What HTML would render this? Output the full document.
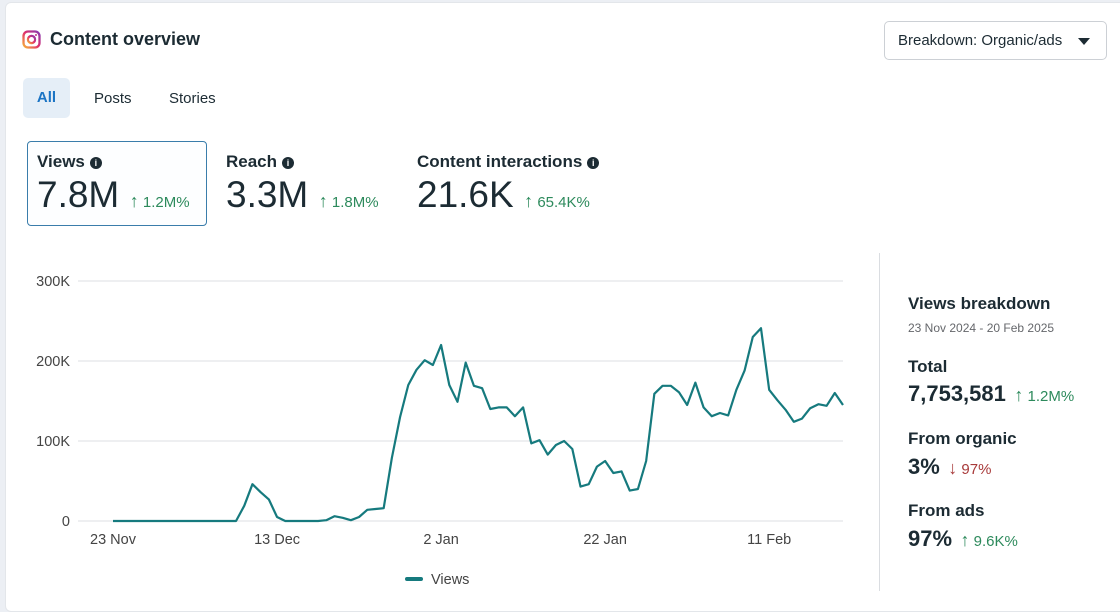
<!DOCTYPE html>
<html><head><meta charset="utf-8"><style>
*{box-sizing:border-box;margin:0;padding:0}
body{width:1120px;height:603px;background:#eceff4;font-family:"Liberation Sans",sans-serif;color:#1c2b33;position:relative;overflow:hidden}
#card{position:absolute;left:5px;top:2px;width:1125px;height:610px;background:#fff;border:1px solid #e3e6ea;border-radius:6px}
.a{position:absolute;white-space:nowrap}
.b{font-weight:bold}
.info{display:inline-block;width:12px;height:12px;border-radius:50%;background:#1c2b33;color:#fff;font-size:9px;text-align:center;line-height:12px;vertical-align:1px;margin-left:5px;font-weight:bold}
.big{font-size:37px;color:#1c2b33}
.up{color:#2d8a5c;font-size:15px}
.arr{font-size:18px}
</style></head><body>
<div id="card"></div>
<svg class="a" style="left:22px;top:30px" width="19" height="19" viewBox="0 0 19 19"><defs><linearGradient id="ig" x1="0" y1="1" x2="1" y2="0"><stop offset="0" stop-color="#f6b33a"/><stop offset=".5" stop-color="#e1306c"/><stop offset="1" stop-color="#833ab4"/></linearGradient></defs><rect x="1.5" y="1.5" width="16" height="16" rx="4.5" fill="none" stroke="url(#ig)" stroke-width="2.3"/><circle cx="9.5" cy="9.5" r="3.6" fill="none" stroke="url(#ig)" stroke-width="2.2"/><circle cx="14" cy="5" r="1" fill="#c13584"/></svg>
<div class="a b" style="left:50px;top:29px;font-size:18px">Content overview</div>
<div class="a" style="left:884px;top:21px;width:223px;height:39px;border:1px solid #ccd0d5;border-radius:5px;font-size:15px;padding:10px 0 0 13px">Breakdown: Organic/ads <span style="position:absolute;right:16px;top:16px;border-left:6px solid transparent;border-right:6px solid transparent;border-top:7px solid #1c2b33"></span></div>
<div class="a b" style="left:23px;top:78px;width:47px;height:40px;background:#e5eef7;border-radius:5px;color:#1b74c4;font-size:15px;text-align:center;line-height:40px">All</div>
<div class="a" style="left:94px;top:90px;font-size:15px">Posts</div>
<div class="a" style="left:169px;top:90px;font-size:15px">Stories</div>
<div class="a" style="left:27px;top:141px;width:180px;height:85px;border:1.5px solid #3a7dab;border-radius:4px;background:#fdfeff"></div>
<div class="a b" style="left:37px;top:152px;font-size:17px">Views<span class="info">i</span></div>
<div class="a" style="left:37px;top:174px"><span class="big">7.8M</span> <span class="up" style="margin-left:6px"><span class="arr">↑</span> 1.2M%</span></div>
<div class="a b" style="left:226px;top:152px;font-size:17px">Reach<span class="info">i</span></div>
<div class="a" style="left:226px;top:174px"><span class="big">3.3M</span> <span class="up" style="margin-left:6px"><span class="arr">↑</span> 1.8M%</span></div>
<div class="a b" style="left:417px;top:152px;font-size:17px">Content interactions<span class="info">i</span></div>
<div class="a" style="left:417px;top:174px"><span class="big">21.6K</span> <span class="up" style="margin-left:6px"><span class="arr">↑</span> 65.4K%</span></div>

<svg id="chart" class="a" style="left:0;top:0" width="870" height="603"></svg>
<div class="a" style="left:879px;top:253px;width:1px;height:338px;background:#dadde1"></div>
<div class="a b" style="left:908px;top:294px;font-size:17px">Views breakdown</div>
<div class="a" style="left:908px;top:321px;font-size:12px;color:#65676b">23 Nov 2024 - 20 Feb 2025</div>
<div class="a b" style="left:908px;top:357px;font-size:17px">Total</div>
<div class="a" style="left:908px;top:381px"><span class="b" style="font-size:22px">7,753,581</span> <span class="up" style="margin-left:4px"><span class="arr">↑</span> 1.2M%</span></div>
<div class="a b" style="left:908px;top:429px;font-size:17px">From organic</div>
<div class="a" style="left:908px;top:454px"><span class="b" style="font-size:22px">3%</span> <span style="color:#a83a3a;font-size:15px;margin-left:4px"><span class="arr">↓</span> 97%</span></div>
<div class="a b" style="left:908px;top:501px;font-size:17px">From ads</div>
<div class="a" style="left:908px;top:526px"><span class="b" style="font-size:22px">97%</span> <span class="up" style="margin-left:4px"><span class="arr">↑</span> 9.6K%</span></div>
<script>
const views=[0,0,0,0,0,0,0,0,0,0,0,0,0,0,0,0,19,46,36,27,5,0,0,0,0,0,1,6,4,1,5,14,15,16,79,130,170,189,201,195,220,170,149,198,169,166,140,142,142,131,142,97,101,83,95,100,90,43,46,68,75,60,62,38,40,75,159,169,169,161,145,173,142,131,135,132,164,188,230,241,164,151,139,124,128,141,146,144,160,145];
const yTicks=[0,100,200,300];
const yTickLabels=["0","100K","200K","300K"];
const xTickIdx=[0,20,40,60,80];
const xTickLabels=["23 Nov","13 Dec","2 Jan","22 Jan","11 Feb"];
const NS="http://www.w3.org/2000/svg";
const svg=document.getElementById('chart');
const X=i=>113+i*(843-113)/(views.length-1);
const Y=v=>521-v*0.8;
function mk(t,a){const e=document.createElementNS(NS,t);for(const k in a)e.setAttribute(k,a[k]);svg.appendChild(e);return e;}
yTicks.forEach((v,i)=>{
 const g=mk('line',{x1:78,x2:843,y1:Y(v),y2:Y(v),stroke:'#dcdfe3','stroke-width':1});
 
 
 const t=mk('text',{x:70,y:Y(v)+5,'text-anchor':'end','font-size':14.5,fill:'#444'});
 t.textContent=yTickLabels[i];
 
 
});
xTickIdx.forEach((ix,i)=>{
 const t=mk('text',{x:X(ix),y:544,'text-anchor':'middle','font-size':14.5,fill:'#444'});
 t.textContent=xTickLabels[i];
 
 
});
const p=mk('polyline',{points:views.map((v,i)=>X(i)+','+Y(v)).join(' '),fill:'none',stroke:'#167a7e','stroke-width':2.2,'stroke-linejoin':'round'});


const lg=mk('rect',{x:405,y:577,width:18,height:4,rx:2,fill:'#167a7e'});


const lt=mk('text',{x:431,y:584,'font-size':14.5,fill:'#444'});
lt.textContent='Views';


</script>
</body></html>
